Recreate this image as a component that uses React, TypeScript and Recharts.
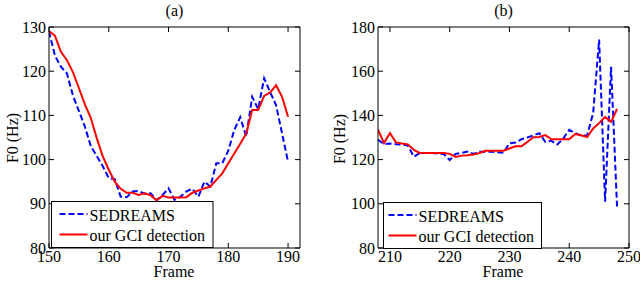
import React from 'react';
import { LineChart, Line, XAxis, YAxis } from 'recharts';

const framesA = [150,151,152,153,154,155,156,157,158,159,160,161,162,163,164,165,166,167,168,169,170,171,172,173,174,175,176,177,178,179,180,181,182,183,184,185,186,187,188,189,190];
const sedreamsA = [129,123.5,121,119.5,114.5,111,107.5,103,100.8,98.5,95.8,95.6,91.6,91.5,92.8,92.9,92.3,92.4,90.8,92,93.5,90.9,91.6,92.8,93.4,91.6,95,93.9,99.2,99.2,102,106.7,109.6,105.2,114.2,111.4,118.4,115.3,112.3,105.9,99.5];
const oursA = [129.1,128,124.4,122.5,119.8,116.2,112.5,109.4,104.8,100.7,97.7,95,93.4,92.5,92.5,92,92.4,91.9,90.8,91.8,91.4,91.4,91.4,91.5,92.5,93,93.5,93.9,95.4,96.9,99.2,101.4,103.6,105.9,111.2,111.2,114.4,115.2,116.8,114.2,109.7];

const framesB = [208,209,210,211,212,213,214,215,216,217,218,219,220,221,222,223,224,225,226,227,228,229,230,231,232,233,234,235,236,237,238,239,240,241,242,243,244,245,246,247,248];
const sedreamsB = [129,127,127.3,127,126.8,126.4,121.3,123,123,123,122.7,122.5,119.8,122.6,123,123.6,122.6,123.6,123.5,123.5,123.3,123.1,127.4,127.7,129.2,130,131,131.9,128,128.5,126.8,129.5,133.5,132,130.8,131,141,174.3,101,162,98.8];
const oursB = [133.5,127.5,132,127.8,127.3,126.9,124.4,123,123,123,123,123,122.6,121.2,121.8,122,122.3,123,124,124,124,124,125,126,126,128,130.1,130.2,131.1,129.2,129.2,129.2,129.2,131.6,131,130.2,134.1,136.5,139.3,137.1,142.9];

const xTicksA = [150,160,170,180,190];
const yTicksA = [80,90,100,110,120,130];
const xTicksB = [210,220,230,240,250];
const yTicksB = [80,100,120,140,160,180];

const seriesNames = ['SEDREAMS', 'our GCI detection'];
const titles = ['(a)', '(b)'];
const xLabel = 'Frame';
const yLabel = 'F0 (Hz)';

const FONT = "'Liberation Serif', 'Times New Roman', 'DejaVu Serif', serif";
const TS: React.CSSProperties = { fontFamily: FONT, fontSize: 16 };
const TL = 5;

const LeftTick = (p: any) => (
  <g>
    <text x={p.x} y={p.y} textAnchor="end" dominantBaseline="central" style={TS} fill="#000">{p.payload.value}</text>
    <line x1={p.x + 3} x2={p.x + 3 + TL} y1={p.y} y2={p.y} stroke="#000" strokeWidth={1} />
  </g>
);
const BottomTick = (p: any) => (
  <g>
    <text x={p.x} y={p.y} dy="0.72em" textAnchor="middle" style={TS} fill="#000">{p.payload.value}</text>
    <line x1={p.x} x2={p.x} y1={p.y - 2} y2={p.y - 2 - TL} stroke="#000" strokeWidth={1} />
  </g>
);
const TopTick = (p: any) => (
  <line x1={p.x} x2={p.x} y1={p.y} y2={p.y + TL} stroke="#000" strokeWidth={1} />
);
const RightTick = (p: any) => (
  <line x1={p.x} x2={p.x - TL} y1={p.y} y2={p.y} stroke="#000" strokeWidth={1} />
);

const Panel = (props: { frames: number[]; a: number[]; b: number[]; xd: number[]; yd: number[]; xt: number[]; yt: number[]; yw: number; mr: number }) => {
  const data = props.frames.map((f, i) => ({ frame: f, sedreams: props.a[i], ours: props.b[i] }));
  return (
    <LineChart width={320} height={282} data={data} margin={{ top: 22, right: props.mr - 5, bottom: 4, left: 0 }}>
      <XAxis xAxisId="b" dataKey="frame" type="number" domain={props.xd} ticks={props.xt} allowDataOverflow height={30} tickSize={0} tickMargin={2} tick={<BottomTick />} stroke="#000" interval={0} />
      <XAxis xAxisId="t" orientation="top" dataKey="frame" type="number" domain={props.xd} ticks={props.xt} allowDataOverflow height={5} tickSize={0} tickMargin={0} tick={<TopTick />} stroke="#000" interval={0} />
      <YAxis yAxisId="l" type="number" domain={props.yd} ticks={props.yt} allowDataOverflow width={props.yw} tickSize={0} tickMargin={3} tick={<LeftTick />} stroke="#000" interval={0} />
      <YAxis yAxisId="r" orientation="right" type="number" domain={props.yd} ticks={props.yt} allowDataOverflow width={5} tickSize={0} tickMargin={0} tick={<RightTick />} stroke="#000" interval={0} />
      <Line xAxisId="b" yAxisId="l" dataKey="sedreams" stroke="#0000ff" strokeWidth={2} strokeDasharray="6 3" dot={false} isAnimationActive={false} />
      <Line xAxisId="t" yAxisId="r" dataKey="ours" stroke="#ff0000" strokeWidth={2} dot={false} isAnimationActive={false} />
    </LineChart>
  );
};

const LegendBox = (p: { bx: number; by: number; w: number; sx: number; tx: number }) => (
  <g>
    <rect x={p.bx} y={p.by} width={p.w} height={46} fill="#fff" stroke="#000" strokeWidth={1} />
    <line x1={p.sx} x2={p.sx + 28} y1={p.by + 12.5} y2={p.by + 12.5} stroke="#0000ff" strokeWidth={2} strokeDasharray="6 3" />
    <text x={p.tx} y={p.by + 19} style={TS} fill="#000">{seriesNames[0]}</text>
    <line x1={p.sx} x2={p.sx + 28} y1={p.by + 33} y2={p.by + 33} stroke="#ff0000" strokeWidth={2} />
    <text x={p.tx} y={p.by + 39.5} style={TS} fill="#000">{seriesNames[1]}</text>
  </g>
);

export default function App() {
  return (
    <div style={{ position: 'absolute', left: 0, top: 0, width: 640, height: 282, background: '#fff', overflow: 'hidden', fontFamily: FONT }}>
      <div style={{ position: 'absolute', left: 0, top: 0 }}>
        <Panel frames={framesA} a={sedreamsA} b={oursA} xd={[150, 192]} yd={[80, 130]} xt={xTicksA} yt={yTicksA} yw={49} mr={20} />
      </div>
      <div style={{ position: 'absolute', left: 320, top: 0 }}>
        <Panel frames={framesB} a={sedreamsB} b={oursB} xd={[208, 250]} yd={[80, 180]} xt={xTicksB} yt={yTicksB} yw={58} mr={11} />
      </div>
      <svg width={640} height={282} style={{ position: 'absolute', left: 0, top: 0, pointerEvents: 'none' }}>
        <text x={174.5} y={16} textAnchor="middle" style={TS} fill="#000">{titles[0]}</text>
        <text x={503.5} y={16} textAnchor="middle" style={TS} fill="#000">{titles[1]}</text>
        <text x={174} y={277} textAnchor="middle" style={TS} fill="#000">{xLabel}</text>
        <text x={503} y={277} textAnchor="middle" style={TS} fill="#000">{xLabel}</text>
        <text x={12} y={138} transform="rotate(-90 12 138)" textAnchor="middle" dominantBaseline="central" style={TS} fill="#000">{yLabel}</text>
        <text x={339} y={139} transform="rotate(-90 339 139)" textAnchor="middle" dominantBaseline="central" style={TS} fill="#000">{yLabel}</text>
        <LegendBox bx={51.5} by={201.5} w={161.5} sx={59.5} tx={89.5} />
        <LegendBox bx={383.5} by={202.5} w={158} sx={388.5} tx={418.5} />
      </svg>
    </div>
  );
}
